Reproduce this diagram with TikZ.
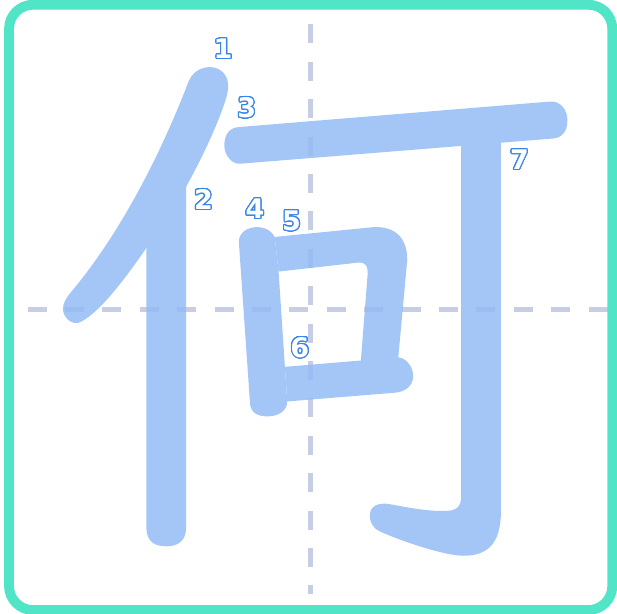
\documentclass[tikz,border=0pt]{standalone}
\usepackage{fontspec}
\setmainfont{DejaVu Sans}
\usepackage{contour}
\contourlength{1.1pt}
\contournumber{32}
\definecolor{frameteal}{RGB}{79,229,198}
\definecolor{guidegray}{RGB}{199,205,228}
\definecolor{strokeblue}{RGB}{147,188,244}
\definecolor{numblue}{RGB}{58,134,232}
\tikzset{
  guide/.style={draw=guidegray, line width=4.7pt, dash pattern=on 19pt off 18.4pt},
  strk/.style={fill=strokeblue, draw=none},
  num/.style={inner sep=0pt, font=\fontsize{27}{27}\selectfont\bfseries}
}
\newcommand{\hollownum}[1]{\contour{numblue}{\textcolor{white}{#1}}}
\begin{document}
\begin{tikzpicture}[x=0.39349pt, y=-0.39359pt]
\useasboundingbox (0,0) rectangle (1568,1560);
% guides
\coordinate (vtop) at (789,62);
\coordinate (vbot) at (789,1510);
\coordinate (hl) at (70,786);
\coordinate (hr) at (1568,786);
\draw[guide] (vtop) -- (vbot);
\draw[guide] (hl) -- (hr);
% strokes
\begin{scope}[transparency group, opacity=0.85]
% stroke 1
\path[strk] (480,205) .. controls (495,170) and (540,160) .. (565,182)
  .. controls (585,200) and (582,230) .. (572,258)
  .. controls (555,310) and (520,390) .. (470,480)
  -- (372,630)
  .. controls (320,705) and (250,800) .. (200,820)
  .. controls (180,825) and (160,805) .. (160,785)
  .. controls (160,770) and (168,758) .. (178,745)
  .. controls (280,625) and (390,440) .. (480,205) -- cycle;
% stroke 2
\path[strk] (372,620) -- (473,455) -- (473,1340)
  .. controls (473,1380) and (445,1388) .. (423,1388)
  .. controls (395,1388) and (372,1378) .. (372,1340) -- cycle;
% stroke 3
\path[strk] (605,323) -- (1398,258)
  .. controls (1425,256) and (1442,280) .. (1442,305)
  .. controls (1442,335) and (1428,350) .. (1405,352)
  -- (610,416)
  .. controls (590,418) and (570,395) .. (570,370)
  .. controls (570,340) and (585,325) .. (605,323) -- cycle;
% stroke 7
\path[strk] (1172,365) -- (1273,358) -- (1273,1300)
  .. controls (1273,1385) and (1235,1412) .. (1178,1412)
  .. controls (1130,1412) and (1020,1375) .. (965,1350)
  .. controls (945,1340) and (940,1325) .. (940,1310)
  .. controls (940,1285) and (960,1278) .. (985,1280)
  .. controls (1040,1290) and (1090,1300) .. (1135,1298)
  .. controls (1160,1297) and (1172,1288) .. (1172,1260) -- cycle;
% stroke 4
\path[strk] (607,615) .. controls (607,590) and (630,577) .. (653,577)
  .. controls (675,577) and (692,588) .. (698,602)
  -- (708,690) -- (724,932) -- (730,1020)
  .. controls (730,1045) and (705,1058) .. (680,1058)
  .. controls (650,1058) and (635,1045) .. (635,1020) -- cycle;
% stroke 5
\path[strk] (698,602) -- (950,577)
  .. controls (1010,575) and (1035,610) .. (1035,660)
  -- (1012,910) -- (917,917) -- (934,700)
  .. controls (936,675) and (928,666) .. (912,667)
  -- (708,690) -- cycle;
% stroke 6
\path[strk] (724,932) -- (1012,908)
  .. controls (1035,910) and (1050,935) .. (1050,955)
  .. controls (1050,980) and (1030,997) .. (1000,998)
  -- (730,1020) -- cycle;
\end{scope}
% numbers
\node[num] (n1) at (567,125) {\hollownum{1}};
\node[num] (n2) at (517,508) {\hollownum{2}};
\node[num] (n3) at (627,275) {\hollownum{3}};
\node[num] (n4) at (648,532) {\hollownum{4}};
\node[num] (n5) at (741,562) {\hollownum{5}};
\node[num] (n6) at (762,884) {\hollownum{6}};
\node[num] (n7) at (1320,407) {\hollownum{7}};
% frame
\draw[frameteal, line width=9.8pt, rounded corners=24pt] (23,12) rectangle (1556,1550);
\end{tikzpicture}
\end{document}
